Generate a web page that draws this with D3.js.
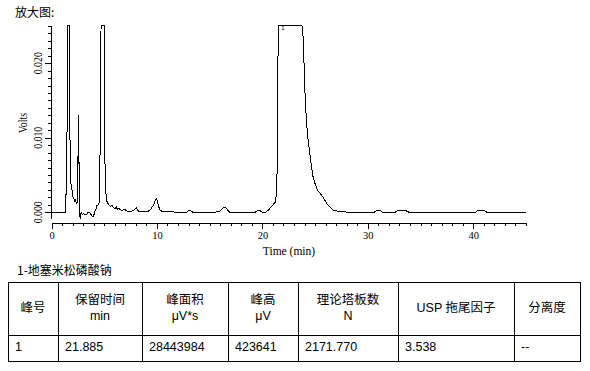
<!DOCTYPE html>
<meta charset="utf-8">
<style>
  body { margin: 0; background: #fff; }
  svg { display: block; }
  .axis path, .axis line { stroke: #000; shape-rendering: crispEdges; }
  .axis text { font-family: "Liberation Serif", "Times New Roman", serif; font-size: 10.5px; fill: #000; }
  .ylbl { font-family: "Liberation Serif", "Times New Roman", serif; font-size: 13.5px; fill: #000; }
  .cjk { font-family: "Noto Sans CJK SC", sans-serif; font-size: 12px; fill: #000; }
  .cell { font-family: "Liberation Sans", Arial, "Noto Sans CJK SC", sans-serif; font-size: 12.5px; fill: #000; }
  .trace { fill: none; stroke: #000; stroke-width: 1; shape-rendering: crispEdges; }
</style>
<body>
<script src="https://d3js.org/d3.v7.min.js"></script>
<script>
  // retention time (min)
  var times = [0.00, 0.30, 0.50, 0.70, 0.90, 1.10, 1.30, 1.36, 1.38, 1.43, 1.45, 1.50, 1.56, 1.62, 1.69, 1.74,
    1.78, 1.83, 1.90, 1.97, 2.05, 2.12, 2.20, 2.28, 2.34, 2.40, 2.44, 2.47, 2.52, 2.58, 2.64, 2.68, 2.72,
    2.76, 2.85, 2.95, 3.05, 3.20, 3.35, 3.45, 3.60, 3.70, 3.80, 3.90, 4.00, 4.10, 4.20, 4.30, 4.45, 4.55, 4.60,
    4.70, 4.85, 5.00, 5.06, 5.12, 5.20, 5.30, 5.45, 5.60, 5.75, 5.90, 6.05, 6.15, 6.25, 6.40, 6.60,
    6.80, 6.95, 7.10, 7.40, 7.70, 7.90, 8.05, 8.15, 8.25, 8.60, 9.00, 9.30, 9.50, 9.70, 9.85, 9.97, 10.05, 10.15,
    10.30, 10.50, 11.00, 12.00, 12.80, 13.00, 13.20, 13.40, 14.50, 15.50, 15.90, 16.15, 16.35, 16.50, 16.70, 16.90,
    18.00, 19.30, 19.50, 19.80, 20.00, 20.30, 20.60, 20.80, 21.00, 21.25, 21.35, 21.42, 21.50, 21.885, 23.75,
    23.87, 24.03, 24.19, 24.34, 24.50, 24.66, 24.80, 24.98, 25.20, 25.45, 25.76, 26.09, 26.40, 26.70, 27.30,
    28.30, 30.60, 30.90, 31.15, 31.40, 32.60, 32.90, 33.50, 33.90, 40.20, 40.40, 41.10, 41.30, 45.00];
  // detector signal (V)
  var volts = [0.0000, 0.0000, -0.0001, 0.0000, -0.0001, 0.0000, -0.0001, 0.0000, 0.0028, 0.0031, 0.0105, 0.0110, 0.0400, 0.0700, 0.0400, 0.0128,
    0.0045, 0.0040, 0.0035, 0.0028, 0.0020, 0.0018, 0.0015, 0.0017, 0.0013, 0.0012, 0.0014, 0.0075, 0.0065, 0.0131, 0.0000, -0.0006, -0.0007,
    -0.0002, -0.0001, -0.0003, -0.0002, -0.0003, -0.0003, 0.0000, 0.0000, -0.0002, -0.0004, -0.0006, -0.0005, 0.0001, 0.0003, 0.0009, 0.0010, 0.0014, 0.0075,
    0.0400, 0.0500, 0.0400, 0.0075, 0.0035, 0.0017, 0.0013, 0.0010, 0.0008, 0.0009, 0.0006, 0.0005, 0.0007, 0.0004, 0.0005, 0.0003,
    0.0003, 0.0004, 0.0002, 0.0001, 0.0002, 0.0004, 0.0006, 0.0004, 0.0001, 0.0001, 0.0001, 0.0002, 0.0006, 0.0010, 0.0016, 0.0018, 0.0015, 0.0008,
    0.0003, 0.0001, 0.0001, 0.0000, 0.0000, 0.0002, 0.0002, 0.0000, 0.0000, 0.0000, 0.0001, 0.0004, 0.0007, 0.0007, 0.0003, 0.0000,
    0.0000, 0.0000, 0.0002, 0.0002, 0.0000, 0.0000, 0.0003, 0.0007, 0.0010, 0.0014, 0.0030, 0.0070, 0.0400, 0.423641, 0.0300,
    0.0234, 0.0164, 0.0119, 0.0097, 0.0079, 0.0061, 0.0048, 0.0039, 0.0030, 0.0026, 0.0020, 0.0012, 0.0007, 0.0003, 0.0001,
    0.0000, 0.0000, 0.0003, 0.0003, 0.0000, 0.0000, 0.0003, 0.0003, 0.0000, 0.0000, 0.0002, 0.0002, 0.0000, 0.0000];

  var xMajor = [0, 10, 20, 30, 40];
  var yMajor = [0.000, 0.010, 0.020];
  var yLabels = ["0.000", "0.010", "0.020"];

  // peak table
  var tableTitle = "1-地塞米松磷酸钠";
  var headLine1 = ["峰号", "保留时间", "峰面积", "峰高", "理论塔板数", "USP 拖尾因子", "分离度"];
  var headLine2 = ["", "min", "μV*s", "μV", "N", "", ""];
  var rowValues = ["1", "21.885", "28443984", "423641", "2171.770", "3.538", "--"];

  var data = times.map(function (t, i) { return { t: t, v: volts[i] }; });

  var svg = d3.select("body").append("svg")
    .attr("width", 590)
    .attr("height", 371);

  svg.append("text")
    .attr("class", "cjk")
    .attr("x", 15)
    .attr("y", 17)
    .text("放大图:");

  var x = d3.scaleLinear().domain([0, 45]).range([51.5, 526]);
  var y = d3.scaleLinear().domain([-0.00077, 0.02513]).range([218, 25]).clamp(true);

  // x axis: minor then major ticks
  svg.append("g").attr("class", "axis")
    .attr("transform", "translate(0,223)")
    .call(d3.axisBottom(x).tickValues(d3.range(0, 46, 1)).tickSize(3).tickSizeOuter(0).tickFormat(""));
  svg.append("g").attr("class", "axis")
    .attr("transform", "translate(0,223)")
    .call(d3.axisBottom(x).tickValues(xMajor).tickSize(6).tickSizeOuter(0).tickPadding(3).tickFormat(d3.format("d")));

  // y axis
  svg.append("g").attr("class", "axis")
    .attr("transform", "translate(51,0)")
    .call(d3.axisLeft(y).tickValues(d3.range(0, 0.0255, 0.001)).tickSize(3).tickSizeOuter(0).tickFormat(""));
  svg.append("g").attr("class", "axis")
    .attr("transform", "translate(51,0)")
    .call(d3.axisLeft(y).tickValues(yMajor).tickSize(6).tickSizeOuter(0).tickFormat(""));

  svg.selectAll("text.ylbl")
    .data(yMajor)
    .enter().append("text")
    .attr("class", "ylbl")
    .attr("text-anchor", "middle")
    .attr("textLength", 22)
    .attr("lengthAdjust", "spacingAndGlyphs")
    .attr("transform", function (d) { return "translate(41.5," + y(d) + ") rotate(-90)"; })
    .text(function (d, i) { return yLabels[i]; });

  svg.append("text")
    .attr("class", "ylbl")
    .style("font-size", "12.5px")
    .attr("text-anchor", "middle")
    .attr("textLength", 20)
    .attr("lengthAdjust", "spacingAndGlyphs")
    .attr("transform", "translate(26.5,123) rotate(-90)")
    .text("Volts");

  svg.append("text")
    .attr("class", "ylbl")
    .style("font-size", "11.5px")
    .attr("text-anchor", "middle")
    .attr("x", 289)
    .attr("y", 255)
    .text("Time (min)");

  // chromatogram trace
  var line = d3.line()
    .x(function (d) { return x(d.t); })
    .y(function (d) { return y(d.v); });

  svg.append("path")
    .datum(data)
    .attr("class", "trace")
    .attr("d", line);

  // peak marker
  svg.append("text")
    .attr("x", x(21.885) - 1)
    .attr("y", 30)
    .style("font-family", "Liberation Sans, sans-serif")
    .style("font-size", "6px")
    .text("1");

  // table
  svg.append("text")
    .attr("class", "cjk")
    .attr("x", 17)
    .attr("y", 275)
    .text(tableTitle);

  var cols = [8, 58, 142, 228, 298, 398, 514, 580];
  var tTop = 282, tMid = 335, tBottom = 361;

  var tbl = svg.append("g").attr("class", "axis");
  [tTop, tMid, tBottom].forEach(function (yy) {
    tbl.append("line").attr("x1", cols[0]).attr("x2", cols[cols.length - 1] + 1)
      .attr("y1", yy + 0.5).attr("y2", yy + 0.5);
  });
  cols.forEach(function (xx) {
    tbl.append("line").attr("x1", xx + 0.5).attr("x2", xx + 0.5)
      .attr("y1", tTop).attr("y2", tBottom + 1);
  });

  headLine1.forEach(function (h, i) {
    var cx = (cols[i] + cols[i + 1]) / 2;
    var two = headLine2[i] !== "";
    svg.append("text").attr("class", "cell")
      .attr("text-anchor", "middle")
      .attr("x", cx)
      .attr("y", two ? 304 : 312)
      .text(h);
    if (two) {
      svg.append("text").attr("class", "cell")
        .attr("text-anchor", "middle")
        .attr("x", cx)
        .attr("y", 320)
        .text(headLine2[i]);
    }
  });

  rowValues.forEach(function (v, i) {
    svg.append("text").attr("class", "cell")
      .attr("x", cols[i] + 7)
      .attr("y", 351)
      .text(v);
  });
</script>
</body>
